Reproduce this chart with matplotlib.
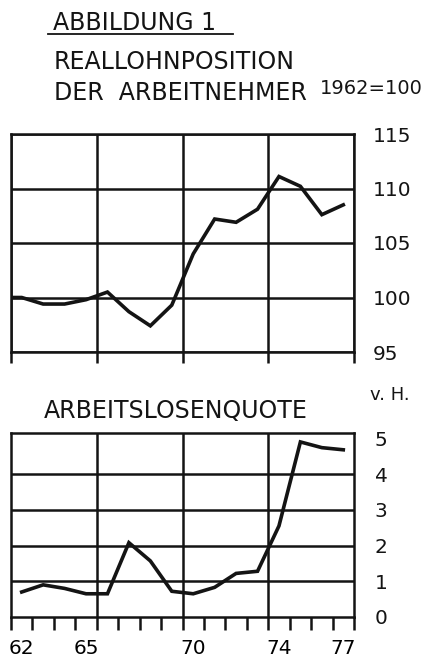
import numpy as np
import matplotlib
matplotlib.use("Agg")
import matplotlib.pyplot as plt
from matplotlib.lines import Line2D

# data
jahre = np.arange(1962, 1978)
reallohn = [100.0, 99.4, 99.4, 99.8, 100.5, 98.7, 97.4, 99.3,
            104.0, 107.2, 106.9, 108.1, 111.1, 110.2, 107.6, 108.5]
alq = [0.7, 0.9, 0.8, 0.65, 0.65, 2.08, 1.57, 0.72,
       0.65, 0.83, 1.22, 1.28, 2.55, 4.9, 4.74, 4.68]
x_labels = [1962, 1965, 1970, 1974, 1977]
grid_years = [1966, 1970, 1974]
top_yticks = [95, 100, 105, 110, 115]
bot_yticks = [0, 1, 2, 3, 4, 5]

W, H = 438, 661
ink = "#141414"
plt.rcParams['font.family'] = ['DejaVu Sans']

def fx(px):
    return px / W

def fy(py):
    return 1 - py / H

fig = plt.figure(figsize=(W / 100, H / 100), dpi=100)

# --- top panel: Reallohnposition
ax1 = fig.add_axes([fx(11), fy(352), fx(354) - fx(11), fy(134) - fy(352)])
x1 = np.r_[jahre[0], jahre + 0.5]   # line starts at the frame (1962=100)
y1 = np.r_[reallohn[0], reallohn]
ax1.plot(x1, y1, color=ink, lw=2.6, solid_joinstyle='miter', zorder=5)
ax1.set_xlim(1962, 1978)
ax1.set_ylim(95, 115)
ax1.set_xticks([1962] + grid_years + [1978])
ax1.set_xticklabels([])
ax1.tick_params(axis='x', direction='out', length=8, width=1.8, color=ink)
ax1.yaxis.tick_right()
ax1.set_yticks(top_yticks)
ax1.set_yticklabels([str(v) for v in top_yticks])
ax1.tick_params(axis='y', length=0, pad=13.5, labelsize=14.5)
for lab in ax1.get_yticklabels():
    lab.set_ha('left')
ax1.grid(True, color=ink, lw=1.8)

# --- bottom panel: Arbeitslosenquote
ax2 = fig.add_axes([fx(11), fy(617), fx(354) - fx(11), fy(433) - fy(617)])
ax2.plot(jahre + 0.5, alq, color=ink, lw=2.6, solid_joinstyle='miter', zorder=5)
ax2.set_xlim(1962, 1978)
ax2.set_ylim(0, 5.15)
ax2.set_xticks(np.arange(1962, 1979))
ax2.set_xticklabels([])
ax2.tick_params(axis='x', which='major', direction='out', length=9.5, width=1.8, color=ink)
ax2.set_xticks([y + 0.5 for y in x_labels], minor=True)
ax2.set_xticklabels([str(y)[2:] for y in x_labels], minor=True)
ax2.tick_params(axis='x', which='minor', length=0, pad=16, labelsize=14.5)
ax2.yaxis.tick_right()
ax2.set_yticks(bot_yticks)
ax2.set_yticklabels([str(v) for v in bot_yticks])
ax2.tick_params(axis='y', length=0, pad=15, labelsize=14.5)
for lab in ax2.get_yticklabels():
    lab.set_ha('left')
for v in bot_yticks[1:-1]:
    ax2.axhline(v, color=ink, lw=1.8)
for g in grid_years:
    ax2.axvline(g, color=ink, lw=1.8)

for ax in (ax1, ax2):
    for s in ax.spines.values():
        s.set_color(ink)
        s.set_linewidth(1.8)
    ax.tick_params(labelcolor=ink)

# --- texts
fig.text(fx(53), fy(23), "ABBILDUNG 1", fontsize=17, color=ink, va='center', ha='left')
fig.add_artist(Line2D([fx(48), fx(233)], [fy(34), fy(34)], color=ink, lw=1.3))
fig.text(fx(54), fy(62), "REALLOHNPOSITION", fontsize=17, color=ink, va='center', ha='left')
fig.text(fx(54), fy(93), "DER  ARBEITNEHMER", fontsize=17, color=ink, va='center', ha='left')
fig.text(fx(320), fy(88), "1962=100", fontsize=14, color=ink, va='center', ha='left')
fig.text(fx(44), fy(411), "ARBEITSLOSENQUOTE", fontsize=17, color=ink, va='center', ha='left')
fig.text(fx(370), fy(395), "v. H.", fontsize=13, color=ink, va='center', ha='left')

fig.savefig("out.png", dpi=100, facecolor='white')
